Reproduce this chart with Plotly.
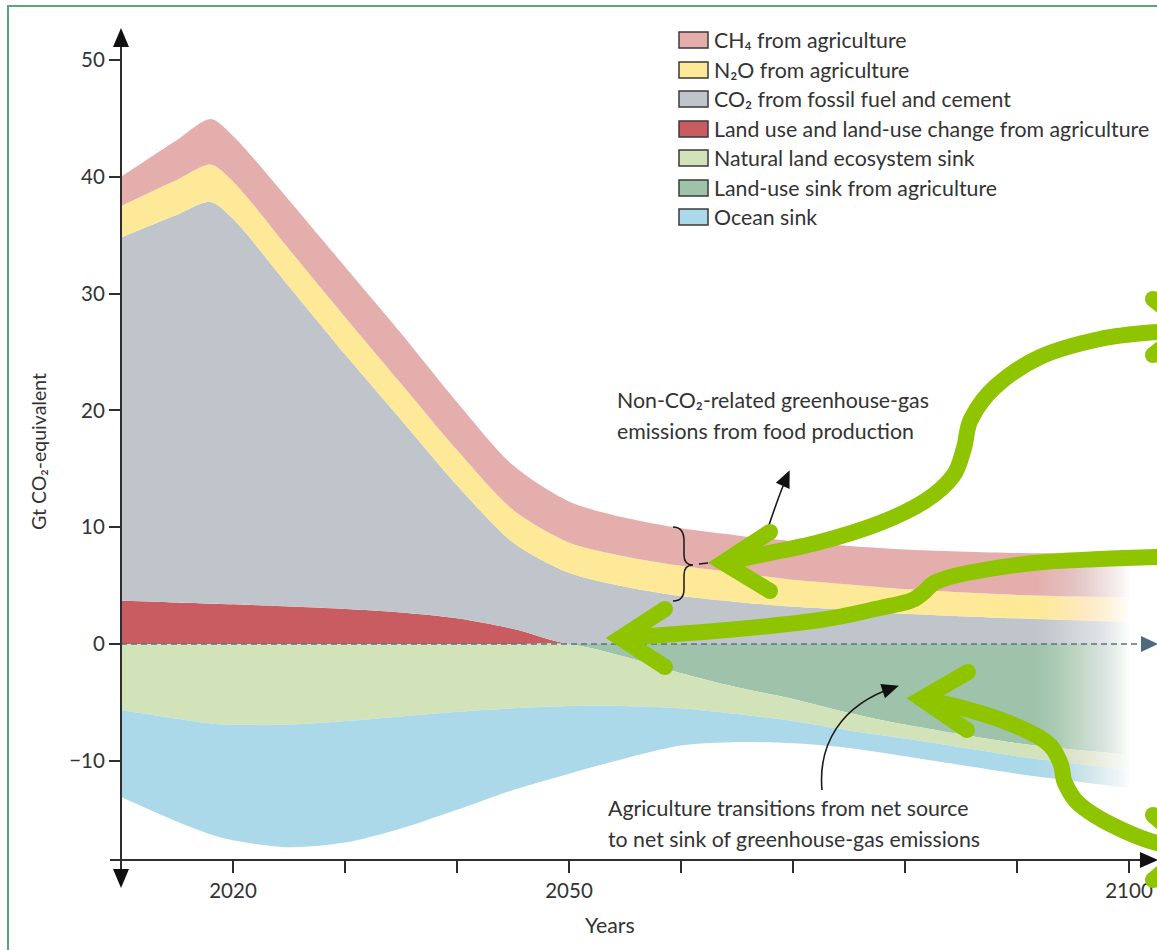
import math
import plotly.graph_objects as go

# ---------------------------------------------------------------- data
years = [2010, 2015, 2018, 2020, 2025, 2030, 2035, 2040, 2045, 2050,
         2055, 2060, 2065, 2070, 2075, 2080, 2090, 2100]

# sources (Gt CO2-equivalent per year)
land_use_change = [3.7, 3.55, 3.45, 3.4, 3.2, 3.0, 2.7, 2.2, 1.3, 0.0,
                   0.0, 0.0, 0.0, 0.0, 0.0, 0.0, 0.0, 0.0]
co2_fossil = [31.1, 33.2, 34.4, 33.0, 27.4, 21.8, 16.5, 11.4, 7.4, 6.1,
              4.9, 4.1, 3.6, 3.2, 2.9, 2.6, 2.2, 1.9]
n2o_agri = [2.7, 3.0, 3.2, 3.2, 3.2, 3.2, 3.1, 3.0, 2.8, 2.6,
            2.6, 2.6, 2.5, 2.3, 2.2, 2.1, 2.0, 2.1]
ch4_agri = [2.5, 3.4, 3.9, 3.9, 4.2, 4.3, 4.3, 4.1, 3.8, 3.5,
            3.3, 3.2, 3.2, 3.3, 3.3, 3.4, 3.6, 3.8]

# sinks (negative)
land_sink_agri = [0.0, 0.0, 0.0, 0.0, 0.0, 0.0, 0.0, 0.0, 0.0, 0.0,
                  -1.1, -2.5, -3.7, -4.7, -5.9, -6.9, -8.5, -9.5]
natural_sink = [-5.65, -6.4, -6.8, -6.9, -6.9, -6.6, -6.2, -5.8, -5.5, -5.3,
                -4.2, -3.0, -2.3, -1.9, -1.5, -1.2, -1.1, -1.3]
ocean_sink = [-7.45, -8.8, -9.5, -9.9, -10.5, -10.4, -9.6, -8.4, -7.0, -5.8,
              -4.5, -3.2, -2.4, -1.9, -1.5, -1.5, -1.5, -1.5]

legend_labels = [
    "CH\u2084 from agriculture",
    "N\u2082O from agriculture",
    "CO\u2082 from fossil fuel and cement",
    "Land use and land-use change from agriculture",
    "Natural land ecosystem sink",
    "Land-use sink from agriculture",
    "Ocean sink",
]
legend_colors = ["#e3aeac", "#fde997", "#c0c5cc", "#c85c61",
                 "#d3e3b9", "#9fc3aa", "#abd9e9"]

y_ticks = [-10, 0, 10, 20, 30, 40, 50]
x_labelled = [2020, 2050, 2100]
x_minor = [2030, 2040, 2060, 2070, 2080, 2090]

# ---------------------------------------------------------------- geometry
W, H = 1157, 950
L, R, T, B = 121, 1157, 25, 860          # plot area in pixels
PW, PH = R - L, B - T
PX_YEAR, PX_UNIT, ZERO_PX = 11.2, 11.68, 644
x_range = [2010, 2010 + PW / PX_YEAR]
y_range = [-(B - ZERO_PX) / PX_UNIT, (ZERO_PX - T) / PX_UNIT]

FONT = "Lato, 'DejaVu Sans'"
TXT = "#333333"
AXIS = "#2e2e2e"
LIME = "#8fc400"
TICK_SIZE = 20.5
NOTE_SIZE = 21.3
LEGEND_SIZE = 21.3


def pp(x, y):
    """pixel -> paper coordinates"""
    return (x - L) / PW, (B - y) / PH


def fmt(pt):
    a, b = pp(*pt)
    return f"{a:.5f},{b:.5f}"


def smooth(pts):
    d = "M" + fmt(pts[0])
    n = len(pts)
    for i in range(n - 1):
        p0 = pts[i - 1] if i > 0 else pts[i]
        p1, p2 = pts[i], pts[i + 1]
        p3 = pts[i + 2] if i + 2 < n else p2
        c1 = (p1[0] + (p2[0] - p0[0]) / 6, p1[1] + (p2[1] - p0[1]) / 6)
        c2 = (p2[0] - (p3[0] - p1[0]) / 6, p2[1] - (p3[1] - p1[1]) / 6)
        d += f" C{fmt(c1)} {fmt(c2)} {fmt(p2)}"
    return d


def poly(pts, close=False):
    d = "M" + " L".join(fmt(p) for p in pts)
    return d + (" Z" if close else "")


shapes = []
annotations = []

# ---------------------------------------------------------------- traces
fig = go.Figure()
pos_series = [(3, land_use_change), (2, co2_fossil), (1, n2o_agri), (0, ch4_agri)]
neg_series = [(5, land_sink_agri), (4, natural_sink), (6, ocean_sink)]
for group, series in (("pos", pos_series), ("neg", neg_series)):
    for idx, vals in series:
        fig.add_trace(go.Scatter(
            x=years, y=vals, name=legend_labels[idx], stackgroup=group,
            mode="lines", line=dict(width=0, shape="spline", smoothing=0.8,
                                    color=legend_colors[idx]),
            fillcolor=legend_colors[idx], hoverinfo="skip", showlegend=False))

# ---------------------------------------------------------------- fade-out on the right
# overlapping white bands, each running to the right edge, so that the
# accumulated opacity follows a smooth ramp without seams
x_start, x_full = 1035, 1132
step = 2
prev_t = 1.0
x = x_start
while x < x_full + step:
    a_target = min(1.0, max(0.0, (x + step - x_start) / (x_full - x_start))) ** 1.1
    t_target = max(1e-4, 1.0 - a_target)
    a = 1.0 - t_target / prev_t
    prev_t = t_target
    x0, y0 = pp(x, 480)
    x1, y1 = pp(R + 5, 820)
    shapes.append(dict(type="rect", xref="paper", yref="paper", x0=x0, x1=x1,
                       y0=y0, y1=y1, fillcolor=f"rgba(255,255,255,{a:.4f})",
                       line=dict(width=0), layer="above"))
    x += step

# ---------------------------------------------------------------- zero line
shapes.append(dict(type="path", xref="paper", yref="paper",
                   path=poly([(L, ZERO_PX), (1143, ZERO_PX)]),
                   line=dict(color="#5a7483", width=1.6, dash="6px,4px"),
                   layer="above"))
shapes.append(dict(type="path", xref="paper", yref="paper",
                   path=poly([(1141, 636), (1158, 644), (1141, 652)], True),
                   fillcolor="#4f6a7a", line=dict(width=0), layer="above"))

# ---------------------------------------------------------------- axes with arrows
shapes.append(dict(type="path", xref="paper", yref="paper",
                   path=poly([(L, 44), (L, 872)]),
                   line=dict(color=AXIS, width=2), layer="above"))
shapes.append(dict(type="path", xref="paper", yref="paper",
                   path=poly([(113, 47), (L, 28), (129, 47)], True),
                   fillcolor="#111111", line=dict(width=0), layer="above"))
shapes.append(dict(type="path", xref="paper", yref="paper",
                   path=poly([(113, 869), (L, 888), (129, 869)], True),
                   fillcolor="#111111", line=dict(width=0), layer="above"))
shapes.append(dict(type="path", xref="paper", yref="paper",
                   path=poly([(110, B), (1142, B)]),
                   line=dict(color=AXIS, width=2), layer="above"))
shapes.append(dict(type="path", xref="paper", yref="paper",
                   path=poly([(1140, 852), (1158, B), (1140, 868)], True),
                   fillcolor="#111111", line=dict(width=0), layer="above"))

# ---------------------------------------------------------------- outer frame
fx0, fy0 = pp(8, 6)
fx1, fy1 = pp(1175, 965)
shapes.append(dict(type="rect", xref="paper", yref="paper", x0=fx0, x1=fx1,
                   y0=fy1, y1=fy0, line=dict(color="#55a878", width=2),
                   fillcolor="rgba(0,0,0,0)", layer="above"))

# ---------------------------------------------------------------- legend
row_y = [40, 70, 99, 129, 158, 188, 217]
for lab, col, ry in zip(legend_labels, legend_colors, row_y):
    a0, b0 = pp(679, ry + 8)
    a1, b1 = pp(708, ry - 8)
    shapes.append(dict(type="rect", xref="paper", yref="paper", x0=a0, x1=a1,
                       y0=b0, y1=b1, fillcolor=col,
                       line=dict(color="#3a3a3a", width=1.5), layer="above"))
    tx, ty = pp(712, ry)
    annotations.append(dict(text=lab, x=tx, y=ty, xref="paper", yref="paper",
                            xanchor="left", yanchor="middle", showarrow=False,
                            font=dict(family=FONT, size=LEGEND_SIZE, color=TXT)))


# ---------------------------------------------------------------- notes and black arrows
def note(text, x, y, size=NOTE_SIZE):
    a, b = pp(x, y)
    annotations.append(dict(text=text, x=a, y=b, xref="paper", yref="paper",
                            xanchor="left", yanchor="middle", showarrow=False,
                            font=dict(family=FONT, size=size, color=TXT)))


note("Non-CO\u2082-related greenhouse-gas", 615, 400)
note("emissions from food production", 615, 431)
note("Agriculture transitions from net source", 606, 808)
note("to net sink of greenhouse-gas emissions", 606, 839)


def black_arrow(p0, c1, c2, tip):
    path = f"M{fmt(p0)} C{fmt(c1)} {fmt(c2)} {fmt(tip)}"
    shapes.append(dict(type="path", xref="paper", yref="paper", path=path,
                       line=dict(color="#1a1a1a", width=1.6), layer="above"))
    dx, dy = tip[0] - c2[0], tip[1] - c2[1]
    n = math.hypot(dx, dy)
    ux, uy = dx / n, dy / n
    hl, hw = 17, 7.5
    bx, by = tip[0] + ux * 4 - ux * hl, tip[1] + uy * 4 - uy * hl
    head = [(bx - uy * hw, by + ux * hw), (tip[0] + ux * 4, tip[1] + uy * 4),
            (bx + uy * hw, by - ux * hw)]
    shapes.append(dict(type="path", xref="paper", yref="paper",
                       path=poly(head, True), fillcolor="#111111",
                       line=dict(width=0), layer="above"))


black_arrow((768, 528), (774, 510), (780, 492), (788, 474))
black_arrow((822, 790), (818, 745), (840, 705), (895, 687))

# curly brace around the non-CO2 bands
brace = (f"M{fmt((673, 527))} Q{fmt((684, 527))} {fmt((684, 541))} "
         f"L{fmt((684, 555))} Q{fmt((684, 565))} {fmt((693, 565))} "
         f"Q{fmt((684, 565))} {fmt((684, 575))} L{fmt((684, 589))} "
         f"Q{fmt((684, 601))} {fmt((673, 601))}")
shapes.append(dict(type="path", xref="paper", yref="paper", path=brace,
                   line=dict(color="#1a1a1a", width=1.5), layer="above"))
shapes.append(dict(type="path", xref="paper", yref="paper",
                   path=poly([(699, 564), (708, 563)]),
                   line=dict(color="#1a1a1a", width=1.5), layer="above"))

# ---------------------------------------------------------------- lime arrows
LW = 16


def cap(x, y):
    a0, b0 = pp(x - LW / 2, y + LW / 2)
    a1, b1 = pp(x + LW / 2, y - LW / 2)
    shapes.append(dict(type="circle", xref="paper", yref="paper", x0=a0, x1=a1,
                       y0=b0, y1=b1, fillcolor=LIME, line=dict(width=0),
                       layer="above"))


def head(tip, b1, b2):
    mx, my = (b1[0] + b2[0]) / 2 - tip[0], (b1[1] + b2[1]) / 2 - tip[1]
    n = math.hypot(mx, my)
    ux, uy = mx / n, my / n
    vx, vy = b1[0] - tip[0], b1[1] - tip[1]
    half = math.acos((vx * ux + vy * uy) / math.hypot(vx, vy))
    off = (LW / 2) / math.sin(half)
    vert = (tip[0] + ux * off, tip[1] + uy * off)
    shapes.append(dict(type="path", xref="paper", yref="paper",
                       path=poly([b1, vert, b2]),
                       line=dict(color=LIME, width=LW), layer="above"))
    cap(*b1)
    cap(*b2)
    return vert


def lime_arrow(shaft, tip, b1, b2):
    vert = head(tip, b1, b2)
    pts = shaft + [vert]
    shapes.append(dict(type="path", xref="paper", yref="paper",
                       path=smooth(pts), line=dict(color=LIME, width=LW),
                       layer="above"))


lime_arrow([(1210, 330), (1157, 332), (1100, 339), (1040, 357), (995, 387),
            (971, 419), (964, 448), (953, 476), (925, 501), (880, 523),
            (820, 542), (760, 555)],
           (703, 563), (770, 532), (770, 591))
head((1205, 327), (1153, 299), (1153, 355))

lime_arrow([(1210, 556), (1157, 557), (1100, 559), (1033, 563), (967, 573),
            (936, 582), (923, 593), (910, 601), (880, 608), (820, 620),
            (727, 630)],
           (601, 638), (665, 609), (665, 667))

lime_arrow([(1210, 850), (1157, 843), (1112, 825), (1079, 804), (1065, 783),
            (1060, 762), (1045, 741), (1004, 721), (955, 706)],
           (902, 698), (968, 672), (967, 730))
head((1205, 848), (1153, 815), (1153, 880))

# ---------------------------------------------------------------- axis titles
ax, ay = pp(38, 452)
annotations.append(dict(text="Gt CO\u2082-equivalent", x=ax, y=ay,
                        xref="paper", yref="paper", textangle=-90,
                        xanchor="center", yanchor="middle", showarrow=False,
                        font=dict(family=FONT, size=19.5, color=TXT)))
ax, ay = pp(610, 925)
annotations.append(dict(text="Years", x=ax, y=ay, xref="paper", yref="paper",
                        xanchor="center", yanchor="middle", showarrow=False,
                        font=dict(family=FONT, size=21.3, color=TXT)))

fig.update_layout(
    width=W, height=H,
    margin=dict(l=L, r=W - R, t=T, b=H - B, autoexpand=False),
    paper_bgcolor="white", plot_bgcolor="white",
    showlegend=False, hovermode=False,
    font=dict(family=FONT, size=TICK_SIZE, color=TXT),
    shapes=shapes, annotations=annotations,
    xaxis=dict(range=x_range, tickmode="array", tickvals=x_labelled,
               ticktext=[str(v) for v in x_labelled],
               ticks="outside", ticklen=12, tickwidth=2, tickcolor=AXIS,
               minor=dict(tickmode="array", tickvals=x_minor, ticks="outside",
                          ticklen=12, tickwidth=2, tickcolor=AXIS,
                          showgrid=False),
               showgrid=False, zeroline=False, showline=False,
               tickfont=dict(family=FONT, size=TICK_SIZE, color=TXT),
               fixedrange=True),
    yaxis=dict(range=y_range, tickvals=y_ticks,
               ticktext=[("\u2212" + str(-v)) if v < 0 else str(v) for v in y_ticks],
               ticks="outside", ticklen=11, tickwidth=2, tickcolor=AXIS,
               showgrid=False, zeroline=False, showline=False,
               tickfont=dict(family=FONT, size=TICK_SIZE, color=TXT),
               fixedrange=True),
)

fig.write_html("out.html", config={"displayModeBar": False})
